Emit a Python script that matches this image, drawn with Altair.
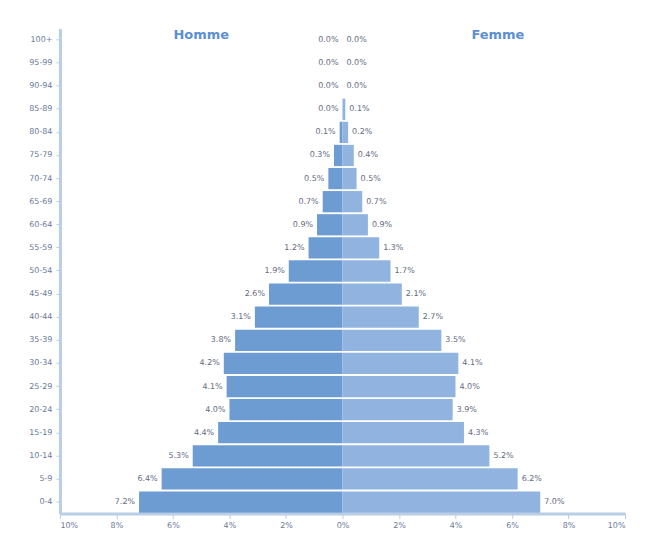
import altair as alt
import pandas as pd

ages = ["0-4", "5-9", "10-14", "15-19", "20-24", "25-29", "30-34", "35-39",
        "40-44", "45-49", "50-54", "55-59", "60-64", "65-69", "70-74", "75-79",
        "80-84", "85-89", "90-94", "95-99", "100+"]
homme = [7.2, 6.4, 5.3, 4.4, 4.0, 4.1, 4.2, 3.8, 3.1, 2.6, 1.9, 1.2, 0.9, 0.7,
         0.5, 0.3, 0.1, 0.0, 0.0, 0.0, 0.0]
femme = [7.0, 6.2, 5.2, 4.3, 3.9, 4.0, 4.1, 3.5, 2.7, 2.1, 1.7, 1.3, 0.9, 0.7,
         0.5, 0.4, 0.2, 0.1, 0.0, 0.0, 0.0]
titles = ["Homme", "Femme"]
title_x = [-5.0, 5.5]

rows = []
for a, h, f in zip(ages, homme, femme):
    rows.append({"age": a, "sexe": "Homme", "v": -h, "lab": f"{h:.1f}%"})
    rows.append({"age": a, "sexe": "Femme", "v": f, "lab": f"{f:.1f}%"})
df = pd.DataFrame(rows)
order = ages[::-1]

FONT = "DejaVu Sans"

y = alt.Y("age:N", sort=order, title=None,
          scale=alt.Scale(paddingInner=0.08, paddingOuter=0.04),
          axis=alt.Axis(labelFontSize=8, labelColor="#6a7a99", labelFont=FONT,
                        domainColor="#b9cde6", domainWidth=3, tickColor="#b9cde6",
                        tickSize=4, labelPadding=4))
x = alt.X("v:Q", title=None,
          scale=alt.Scale(domain=[-10, 10], nice=False),
          axis=alt.Axis(values=list(range(-10, 11, 2)),
                        labelExpr="abs(datum.value) + '%'",
                        labelFontSize=8, labelColor="#6a7a99", labelFont=FONT,
                        domainColor="#b9cde6", domainWidth=3, tickColor="#b9cde6",
                        tickSize=5, grid=False, labelPadding=3))

bars = alt.Chart(df).mark_bar(cornerRadius=0).encode(
    x=x, y=y, x2=alt.datum(0),
    color=alt.Color("sexe:N", scale=alt.Scale(domain=["Homme", "Femme"],
                                               range=["#6d9cd2", "#90b4df"]),
                    legend=None),
)

lab_h = alt.Chart(df[df.sexe == "Homme"]).mark_text(
    align="right", dx=-4, fontSize=8, color="#5f6b80", font=FONT
).encode(x="v:Q", y=alt.Y("age:N", sort=order), text="lab:N")

lab_f = alt.Chart(df[df.sexe == "Femme"]).mark_text(
    align="left", dx=4, fontSize=8, color="#5f6b80", font=FONT
).encode(x="v:Q", y=alt.Y("age:N", sort=order), text="lab:N")

tdf = pd.DataFrame({"t": titles, "x": title_x, "age": ["100+", "100+"]})
ttl = alt.Chart(tdf).mark_text(
    fontSize=13, fontWeight="bold", color="#5b8fd4", font=FONT, dy=-5
).encode(x="x:Q", y=alt.Y("age:N", sort=order), text="t:N")

chart = alt.layer(bars, lab_h, lab_f, ttl).properties(
    width=566, height=486,
    autosize=alt.AutoSizeParams(type="none"),
    padding={"left": 52, "top": 20, "right": 14, "bottom": 20},
).configure_view(stroke=None)

chart.save("out.html", embed_options={"renderer": "svg", "actions": False})
